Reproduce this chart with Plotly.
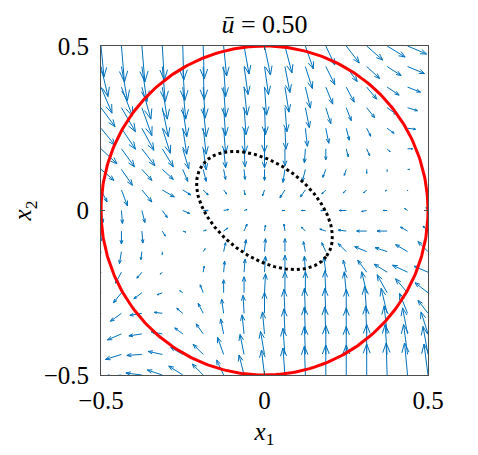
import plotly.graph_objects as go
import numpy as np

# quiver grid (tails), 17 points per axis
x1_grid = [-0.5, -0.4375, -0.375, -0.3125, -0.25, -0.1875, -0.125, -0.0625, 0.0,
           0.0625, 0.125, 0.1875, 0.25, 0.3125, 0.375, 0.4375, 0.5]
x2_grid = [0.5, 0.4375, 0.375, 0.3125, 0.25, 0.1875, 0.125, 0.0625, 0.0,
           -0.0625, -0.125, -0.1875, -0.25, -0.3125, -0.375, -0.4375, -0.5]

# arrow components as drawn (screen px, right / up), rows from x2 = 0.5 down to x2 = -0.5
u_rows = [
    [3, 3, 3, 2, 1, 1, 3, 5, 6, 7, 8, 9, 13, 16, 18, 19, 20],
    [7, 6, 5, 3, 2, 1, 2, 4, 4, 5, 7, 9, 11, 13, 14, 17, 18],
    [11, 11, 9, 5, 3, 2, 2, 3, 2, 4, 5, 7, 8, 10, 12, 13, 14],
    [14, 14, 10, 6, 4, 3, 2, 2, 1, 2, 4, 5, 5, 8, 10, 10, 11],
    [14, 14, 12, 8, 4, 3, 2, 1, 0, 1, 2, 3, 3, 4, 7, 8, 9],
    [16, 13, 13, 11, 6, 3, 2, 1, 0, 0, -1, 0, 2, 3, 3, 5, 5],
    [13, 11, 10, 11, 5, 3, 2, 1, 0, -2, -3, -3, -2, 0, 0, 2, 3],
    [6, 6, 10, 12, 8, 5, 3, 1, -2, -5, -5, -4, -3, -3, -2, 0, 1],
    [2, 1, 3, 5, 7, 5, 5, 3, 0, -3, -4, -5, -7, -5, -4, -3, -2],
    [0, 0, 1, 3, 3, 3, 4, 3, 1, -1, -4, -6, -8, -10, -10, -7, -5],
    [-2, -2, -1, 0, 0, 2, 2, 2, 1, 0, -2, -4, -8, -12, -12, -12, -10],
    [-4, -6, -5, -2, 0, 1, 1, 1, 1, 0, -1, -2, -3, -9, -13, -15, -14],
    [-6, -8, -8, -5, -3, -3, 0, 0, 1, 0, 0, -1, -2, -5, -10, -12, -13],
    [-9, -11, -12, -8, -6, -5, -2, -1, 0, -1, -1, -1, 0, -2, -6, -8, -10],
    [-12, -14, -13, -11, -8, -7, -3, -2, -2, -1, -1, -1, 0, -1, -3, -5, -7],
    [-15, -16, -15, -14, -12, -10, -6, -4, -4, -2, -1, 0, 0, 0, -2, -4, -5],
    [-16, -17, -16, -15, -14, -11, -7, -5, -3, -2, -1, 0, 0, 0, -1, -3, -4],
]
v_rows = [
    [-31, -36, -36, -34, -34, -33, -30, -28, -29, -27, -23, -19, -17, -14, -11, -8, -6],
    [-30, -34, -35, -35, -34, -33, -30, -28, -28, -26, -22, -18, -15, -12, -9, -7, -4],
    [-26, -29, -32, -32, -32, -31, -30, -28, -28, -25, -21, -17, -15, -12, -8, -5, -3],
    [-19, -24, -28, -29, -29, -29, -28, -27, -27, -24, -20, -16, -13, -10, -7, -3, -1],
    [-17, -21, -22, -25, -26, -26, -25, -25, -24, -21, -18, -15, -12, -8, -5, -1, 0],
    [-15, -18, -17, -18, -20, -21, -19, -18, -19, -17, -14, -11, -8, -7, -3, 0, 1],
    [-11, -16, -11, -10, -12, -12, -10, -10, -11, -13, -12, -8, -6, -4, -2, 0, 1],
    [-12, -16, -12, -7, -5, -5, -4, -5, -6, -8, -7, -4, -3, -3, -1, -1, 0],
    [-12, -13, -12, -7, -3, 0, 1, 1, 0, 0, 0, 0, 0, -1, 0, 2, 3],
    [-10, -13, -12, -5, -1, 1, 3, 7, 6, 7, 4, 2, 1, 0, 0, 4, 5],
    [-10, -12, -8, -3, 0, 3, 9, 12, 13, 13, 10, 9, 8, 5, 4, 7, 10],
    [-10, -11, -6, -2, 0, 6, 11, 13, 16, 17, 16, 15, 12, 12, 8, 7, 6],
    [-10, -10, -6, -2, 2, 8, 13, 16, 19, 21, 21, 22, 21, 21, 18, 14, 10],
    [-9, -8, -2, 1, 5, 10, 14, 18, 21, 24, 25, 25, 24, 27, 25, 20, 13],
    [-7, -6, -2, 2, 6, 10, 15, 19, 22, 25, 27, 27, 26, 28, 28, 26, 22],
    [-6, -5, -1, 3, 7, 10, 17, 20, 23, 26, 28, 29, 28, 30, 30, 30, 28],
    [-4, -2, 2, 5, 9, 11, 15, 20, 25, 27, 29, 30, 30, 31, 32, 32, 31],
]

# constraint circle and invariant ellipse
circle_radius = 0.5
ellipse_semi_axes = [0.235, 0.142]
ellipse_angle_deg = -36.0
tick_vals = [-0.5, 0, 0.5]
tick_text = ["\u22120.5", "0", "0.5"]

# plot box in px (for arrow scaling)
px_w, px_h = 327, 329
head_alpha, head_beta = 0.3, 0.38

ax_x, ax_y = [], []
for j, x2 in enumerate(x2_grid):
    for i, x1 in enumerate(x1_grid):
        u = u_rows[j][i]
        v = v_rows[j][i]
        tx, ty = x1 + u / px_w, x2 + v / px_h
        ax_x += [x1, tx, None]
        ax_y += [x2, ty, None]
        bx, by = u * head_alpha, v * head_alpha
        px_, py_ = -v * head_alpha * head_beta, u * head_alpha * head_beta
        ax_x += [tx - (bx + px_) / px_w, tx, tx - (bx - px_) / px_w, None]
        ax_y += [ty - (by + py_) / px_h, ty, ty - (by - py_) / px_h, None]

t = np.linspace(0, 2 * np.pi, 361)
cx = circle_radius * np.cos(t)
cy = circle_radius * np.sin(t)
th = np.deg2rad(ellipse_angle_deg)
a, b = ellipse_semi_axes
ex = a * np.cos(t) * np.cos(th) - b * np.sin(t) * np.sin(th)
ey = a * np.cos(t) * np.sin(th) + b * np.sin(t) * np.cos(th)

fig = go.Figure()
fig.add_trace(go.Scatter(x=ax_x, y=ax_y, mode="lines",
                         line=dict(color="#0072BD", width=1), hoverinfo="skip"))
fig.add_trace(go.Scatter(x=cx, y=cy, mode="lines",
                         line=dict(color="#FF0000", width=3)))
fig.add_trace(go.Scatter(x=ex, y=ey, mode="lines",
                         line=dict(color="black", width=3, dash="dot")))

serif = "Liberation Serif"
font = dict(family=serif, size=25, color="black")
axis_common = dict(
    range=[-0.5, 0.5], tickvals=tick_vals, ticktext=tick_text,
    showgrid=False, zeroline=False, showline=True, mirror="ticks",
    linecolor="#4d4d4d", linewidth=1, ticks="inside", ticklen=4,
    tickcolor="#4d4d4d", tickfont=font, automargin=False,
)
fig.update_xaxes(**axis_common, ticklabelstandoff=3,
                 title=dict(text="<i>x</i><sub>1</sub>", font=font, standoff=9))
fig.update_yaxes(**axis_common, ticklabelstandoff=6,
                 title=dict(text="<i>x</i><sub>2</sub>", font=font, standoff=4))

# the page body adds an 8 px offset, margins compensate for it
fig.update_layout(
    width=478, height=455,
    margin=dict(l=93, r=58, t=38, b=88, autoexpand=False),
    paper_bgcolor="white", plot_bgcolor="white",
    showlegend=False,
    title=dict(text="<i>\u016b</i> = 0.50", font=dict(family=serif, size=26, color="black"),
               x=0.5, xref="paper", xanchor="center", y=1 - 16 / 455, yanchor="middle"),
)

fig.write_html("out.html")
